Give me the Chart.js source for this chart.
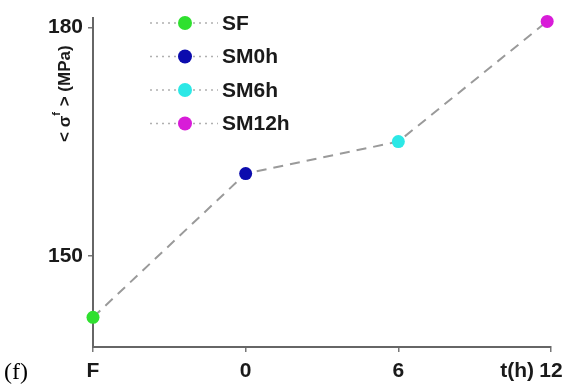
<!DOCTYPE html>
<html>
<head>
<meta charset="utf-8">
<script src="https://cdn.jsdelivr.net/npm/chart.js@4/dist/chart.umd.min.js"></script>
<style>
  html, body { margin: 0; padding: 0; background: #fff; }
  #wrap { width: 571px; height: 389px; position: relative; }
</style>
</head>
<body>
<div id="wrap"><canvas id="chart" width="571" height="389"></canvas></div>
<script>
// data
const samples = ['SF', 'SM0h', 'SM6h', 'SM12h'];
const times = [-6, 0, 6, 11.85];       // F plotted one step before 0
const stress = [141.9, 160.8, 165.0, 180.8];
const xTickValues = [-6, 0, 6, 12];
const xTickLabels = ['F', '0', '6', '12'];
const yTickValues = [150, 180];

const pointColors = ['#2fe02f', '#0c0cae', '#2ce8e6', '#d81cd8'];
const FONT = 'bold 21px "Liberation Sans", Arial, sans-serif';

// one dataset per sample, plus the dashed trend line
const datasets = samples.map((s, i) => ({
    label: s,
    data: [{ x: times[i], y: stress[i] }],
    backgroundColor: pointColors[i],
    borderColor: pointColors[i],
    pointRadius: 6.5,
    pointBorderWidth: 0,
    showLine: false,
    order: 0
}));
datasets.push({
    label: 'trend',
    data: times.map((t, i) => ({ x: t, y: stress[i] })),
    borderColor: '#9a9a9a',
    borderWidth: 2,
    borderDash: [10, 7],
    pointRadius: 0,
    showLine: true,
    order: 1
});

// legend + extra labels drawn by hand
const extras = {
    id: 'extras',
    afterDraw(chart) {
        const ctx = chart.ctx;
        ctx.save();
        // legend
        samples.forEach((s, i) => {
            const y = 23 + i * 33.5;
            ctx.strokeStyle = '#b0b0b0';
            ctx.lineWidth = 1.5;
            ctx.setLineDash([2, 4]);
            ctx.beginPath();
            ctx.moveTo(150, y); ctx.lineTo(177, y);
            ctx.moveTo(193, y); ctx.lineTo(218, y);
            ctx.stroke();
            ctx.setLineDash([]);
            ctx.fillStyle = pointColors[i];
            ctx.beginPath();
            ctx.arc(185, y, 7, 0, Math.PI * 2);
            ctx.fill();
            ctx.fillStyle = '#1a1a1a';
            ctx.font = FONT;
            ctx.textAlign = 'left';
            ctx.textBaseline = 'middle';
            ctx.fillText(s, 222, y + 1);
        });
        // "t(h)" in front of the last x tick
        const xs = chart.scales.x;
        ctx.font = FONT;
        ctx.fillStyle = '#1a1a1a';
        ctx.textAlign = 'right';
        ctx.textBaseline = 'middle';
        ctx.fillText('t(h)', 534, xs.top + 24);
        // y axis title, rotated
        ctx.translate(65, 142);
        ctx.rotate(-Math.PI / 2);
        ctx.textAlign = 'left';
        ctx.textBaseline = 'middle';
        ctx.font = 'bold 17px "Liberation Sans", Arial, sans-serif';
        let x = 0;
        ctx.fillText('< σ', x, 0);
        x += ctx.measureText('< σ').width;
        ctx.font = 'bold 11px "Liberation Sans", Arial, sans-serif';
        ctx.fillText('f', x, -8);
        x += ctx.measureText('f').width + 1;
        ctx.font = 'bold 17px "Liberation Sans", Arial, sans-serif';
        ctx.fillText(' > (MPa)', x, 0);
        ctx.setTransform(1, 0, 0, 1, 0, 0);
        // panel letter
        ctx.font = '24px "Liberation Serif", "Times New Roman", serif';
        ctx.fillStyle = '#000';
        ctx.textAlign = 'left';
        ctx.fillText('(f)', 4, 373);
        ctx.restore();
    }
};

new Chart(document.getElementById('chart').getContext('2d'), {
    type: 'scatter',
    data: { datasets },
    plugins: [extras],
    options: {
        responsive: false,
        animation: false,
        layout: { padding: { top: 12, right: 20, left: 0, bottom: 0 } },
        plugins: { legend: { display: false }, tooltip: { enabled: false } },
        elements: { point: { hoverRadius: 6.5 } },
        clip: false,
        scales: {
            x: {
                type: 'linear',
                min: -6, max: 12,
                afterBuildTicks: s => { s.ticks = xTickValues.map(v => ({ value: v })); },
                afterFit: s => { s.height = 42; },
                ticks: {
                    color: '#1a1a1a',
                    font: { family: '"Liberation Sans", Arial, sans-serif', size: 21, weight: 'bold' },
                    padding: 7,
                    maxRotation: 0,
                    callback: v => xTickLabels[xTickValues.indexOf(v)]
                },
                grid: { drawOnChartArea: false, drawTicks: true, tickLength: 5, color: '#777', lineWidth: 1.5 },
                border: { display: true, color: '#666', width: 2 }
            },
            y: {
                min: 138, max: 181.3,
                afterBuildTicks: s => { s.ticks = yTickValues.map(v => ({ value: v })); },
                afterFit: s => { s.width = 93; },
                ticks: {
                    color: '#1a1a1a',
                    font: { family: '"Liberation Sans", Arial, sans-serif', size: 21, weight: 'bold' },
                    padding: 5
                },
                grid: { drawOnChartArea: false, drawTicks: true, tickLength: 5, color: '#777', lineWidth: 1.5 },
                border: { display: true, color: '#666', width: 2 }
            }
        }
    }
});
</script>
</body>
</html>
